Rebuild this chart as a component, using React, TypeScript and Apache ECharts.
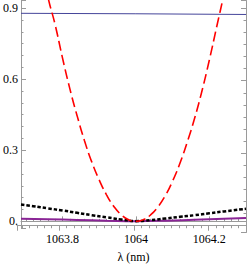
import React, { useEffect, useRef } from "react";
import * as echarts from "echarts";

// wavelength samples (nm) and read values
const lambdaRed = [
  1063.74, 1063.76, 1063.78, 1063.8, 1063.82, 1063.84, 1063.86, 1063.88, 1063.9,
  1063.92, 1063.94, 1063.96, 1063.98, 1064.0, 1064.02, 1064.04, 1064.06, 1064.08,
  1064.1, 1064.12, 1064.14, 1064.16, 1064.18, 1064.2, 1064.22, 1064.24, 1064.26,
];
const valuesRed = [
  1.12, 0.95, 0.83, 0.69, 0.56, 0.445, 0.34, 0.25, 0.175,
  0.112, 0.063, 0.028, 0.007, 0.0, 0.007, 0.027, 0.061, 0.108,
  0.17, 0.245, 0.335, 0.435, 0.55, 0.68, 0.82, 0.96, 1.11,
];

const lambdaBlack = [
  1063.687, 1063.72, 1063.76, 1063.8, 1063.84, 1063.88, 1063.92, 1063.96, 1064.0,
  1064.04, 1064.08, 1064.12, 1064.16, 1064.2, 1064.24, 1064.3,
];
const valuesBlack = [
  0.071, 0.064, 0.055, 0.046, 0.036, 0.026, 0.017, 0.008, 0.001,
  0.005, 0.012, 0.019, 0.026, 0.034, 0.042, 0.053,
];

const lambdaPurple = [1063.687, 1063.76, 1063.84, 1063.92, 1064.0, 1064.08, 1064.16, 1064.24, 1064.3];
const valuesPurple = [0.011, 0.009, 0.006, 0.003, 0.001, 0.003, 0.007, 0.011, 0.014];

const lambdaBlue = [1063.687, 1064.0, 1064.3];
const valuesBlue = [0.878, 0.876, 0.873];

const xTickValues = [1063.8, 1064, 1064.2];
const yTickValues = [0, 0.3, 0.6, 0.9];

const X_MIN = 1063.687;
const X_MAX = 1064.3;
const Y_MIN = -0.028;
const Y_MAX = 0.932;

const FRAME = "#9a9a9a";
const GRID = { left: 17, right: 4, top: 0.5, bottom: 35.5 };

function zip(xs: number[], ys: number[]) {
  return xs.map((x, i) => [x, ys[i]]);
}

function tickParts(minorSplit: number) {
  return {
    splitLine: { show: false },
    axisLine: { show: true, lineStyle: { color: FRAME, width: 1 } },
    axisTick: { show: true, inside: true, length: 5, lineStyle: { color: FRAME, width: 1 } },
    minorTick: { show: true, splitNumber: minorSplit, length: 2.5, lineStyle: { color: FRAME, width: 1 } },
    minorSplitLine: { show: false },
  };
}

export default function App() {
  const ref = useRef<HTMLDivElement>(null);

  useEffect(() => {
    if (!ref.current) return;
    const chart = echarts.init(ref.current, undefined, { renderer: "svg" });
    chart.setOption({
      animation: false,
      grid: [GRID, GRID],
      xAxis: [
        {
          type: "value",
          gridIndex: 0,
          position: "bottom",
          min: X_MIN,
          max: X_MAX,
          splitNumber: 3,
          ...tickParts(10),
          axisLabel: {
            customValues: xTickValues,
            fontFamily: "serif",
            color: "#000",
            fontSize: 12,
            margin: 5,
            formatter: (v: number) => String(+v.toFixed(1)),
          },
          name: "λ (nm)",
          nameLocation: "middle",
          nameGap: 23,
          nameTextStyle: { fontFamily: "serif", color: "#000", fontSize: 12 },
        },
        {
          type: "value",
          gridIndex: 1,
          position: "top",
          min: X_MIN,
          max: X_MAX,
          splitNumber: 3,
          ...tickParts(10),
          axisLabel: { show: false },
        },
      ],
      yAxis: [
        {
          type: "value",
          gridIndex: 0,
          position: "left",
          min: Y_MIN,
          max: Y_MAX,
          splitNumber: 3,
          ...tickParts(6),
          axisLabel: {
            customValues: yTickValues,
            fontFamily: "serif",
            color: "#000",
            fontSize: 12,
            margin: 3,
            formatter: (v: number) => (Math.abs(v) < 1e-9 ? "0." : v.toFixed(1)),
          },
        },
        {
          type: "value",
          gridIndex: 1,
          position: "right",
          min: Y_MIN,
          max: Y_MAX,
          splitNumber: 3,
          ...tickParts(6),
          axisLabel: { show: false },
        },
      ],
      series: [
        {
          type: "line",
          xAxisIndex: 0,
          yAxisIndex: 0,
          data: zip(lambdaBlue, valuesBlue),
          showSymbol: false,
          lineStyle: { color: "#45459a", width: 1 },
          clip: true,
        },
        {
          type: "line",
          xAxisIndex: 0,
          yAxisIndex: 0,
          data: zip(lambdaPurple, valuesPurple),
          showSymbol: false,
          smooth: true,
          lineStyle: { color: "#8a2596", width: 2 },
          clip: true,
        },
        {
          type: "line",
          xAxisIndex: 0,
          yAxisIndex: 0,
          data: zip(lambdaBlack, valuesBlack),
          showSymbol: false,
          smooth: true,
          lineStyle: { color: "#000", width: 2.5, type: [3.5, 2] },
          clip: true,
        },
        {
          type: "line",
          xAxisIndex: 0,
          yAxisIndex: 0,
          data: zip(lambdaRed, valuesRed),
          showSymbol: false,
          smooth: true,
          lineStyle: { color: "#ff0000", width: 1.6, type: [10, 4.5] },
          clip: true,
        },
      ],
    });
    return () => chart.dispose();
  }, []);

  return (
    <div
      ref={ref}
      style={{ position: "fixed", left: 0, top: 0, width: 250, height: 268, background: "#fff" }}
    />
  );
}
